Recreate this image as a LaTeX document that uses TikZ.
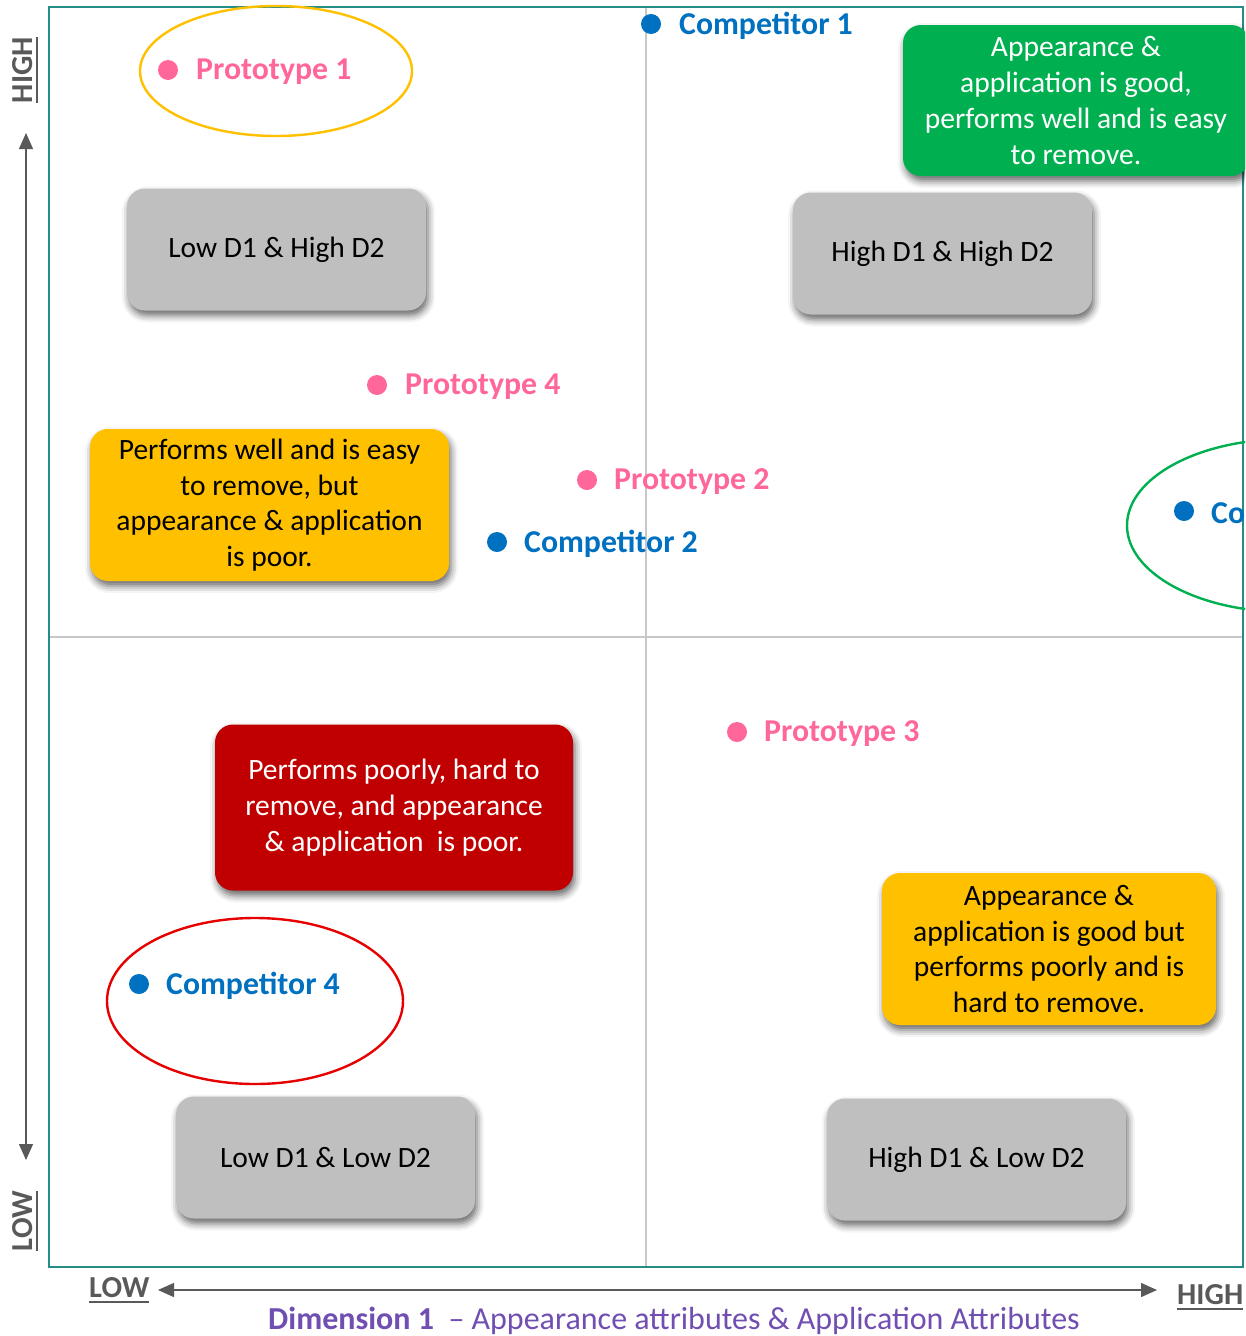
\documentclass[tikz,border=0pt]{standalone}
\usepackage{fontspec}
\setmainfont{Carlito}
\usetikzlibrary{arrows.meta,shadows.blur}
\definecolor{frameteal}{RGB}{38,140,135}
\definecolor{qgrey}{RGB}{200,200,200}
\definecolor{boxgrey}{RGB}{191,191,191}
\definecolor{okgreen}{RGB}{0,176,80}
\definecolor{midorange}{RGB}{255,192,0}
\definecolor{badred}{RGB}{192,0,0}
\definecolor{protopink}{RGB}{255,102,153}
\definecolor{compblue}{RGB}{0,112,192}
\definecolor{axgrey}{RGB}{89,89,89}
\definecolor{dimpurple}{RGB}{112,78,178}
\definecolor{ringgreen}{RGB}{0,176,80}
\definecolor{ringyellow}{RGB}{255,192,0}
\definecolor{ringred}{RGB}{230,0,0}
\newcommand\myul[1]{\setbox0=\hbox{#1}\rlap{\rule[-6pt]{\wd0}{2.5pt}}\box0}
\tikzset{
  softshadow/.style={blur shadow={shadow xshift=2pt,shadow yshift=-5pt,shadow blur radius=7pt,shadow opacity=60}},
  cardbox/.style={rounded corners=18pt,minimum width=299pt,minimum height=122pt,inner sep=0pt,softshadow,
    font=\fontsize{29.5}{35}\selectfont,text=black},
  greycard/.style={cardbox,fill=boxgrey},
  notebox/.style={rounded corners=18pt,inner sep=0pt,softshadow,align=center,font=\fontsize{29.5}{35.7}\selectfont},
  protolabel/.style={anchor=west,inner sep=0pt,text=protopink,font=\fontsize{31.8}{38}\selectfont\bfseries},
  complabel/.style={anchor=west,inner sep=0pt,text=compblue,font=\fontsize{31.8}{38}\selectfont\bfseries},
  protodot/.style={fill=protopink},
  compdot/.style={fill=compblue},
  ring/.style={line width=2.4pt},
  axisline/.style={draw=axgrey,line width=1.4pt},
  axislabel/.style={inner sep=0pt,text=axgrey,font=\fontsize{30.5}{36}\selectfont\bfseries},
}
\begin{document}
\begin{tikzpicture}[x=1pt,y=-1pt]
\useasboundingbox (0,0) rectangle (1245,1336);
\clip (0,0) rectangle (1245,1336);
% quadrant lines
\coordinate (vt) at (646,7); \coordinate (vb) at (646,1267);
\coordinate (hl) at (49,637); \coordinate (hr) at (1243,637);
\draw[qgrey,line width=2pt] (vt) -- (vb);
\draw[qgrey,line width=2pt] (hl) -- (hr);
% frame
\draw[frameteal,line width=2pt] (49,7) rectangle (1243,1267);

% ellipses
\draw[ring,ringyellow] (276,71) ellipse [x radius=136,y radius=65];
\draw[ring,ringgreen] (1287,525.5) ellipse [x radius=160,y radius=86.5];
\draw[ring,ringred] (255,1001) ellipse [x radius=148,y radius=83];

% grey cards
\node[greycard] (lh) at (276.5,249.5) {Low D1 \& High D2};
\node[greycard] (hh) at (942.5,253.5) {High D1 \& High D2};
\node[greycard] (ll) at (325.5,1157.5) {Low D1 \& Low D2};
\node[greycard] (hl2) at (976.5,1159.5) {High D1 \& Low D2};

% note boxes
\node[notebox,fill=okgreen,text=white,minimum width=346pt,minimum height=151pt] (good) at (1076,100.5)
  {Appearance \&\\application is good,\\performs well and is easy\\to remove.};
\node[notebox,fill=midorange,text=black,minimum width=359pt,minimum height=152pt] (leftmid) at (269.5,505)
  {Performs well and is easy\\to remove, but\\appearance \& application\\is poor.};
\node[notebox,fill=badred,text=white,minimum width=358pt,minimum height=166pt] (bad) at (394,807.5)
  {Performs poorly, hard to\\remove, and appearance\\\& application\ \ is poor.};
\node[notebox,fill=midorange,text=black,minimum width=334pt,minimum height=152pt] (rightmid) at (1049,949)
  {Appearance \&\\application is good but\\performs poorly and is\\hard to remove.};

% points
\fill[protodot] (168,70) circle (10);
\node[protolabel] (p1) at (196,72) {Prototype 1};
\fill[compdot] (651,24) circle (10);
\node[complabel] (c1) at (679,26) {Competitor 1};
\fill[protodot] (377,385) circle (10);
\node[protolabel] (p4) at (405,387) {Prototype 4};
\fill[protodot] (587,480) circle (10);
\node[protolabel] (p2) at (614,482) {Prototype 2};
\fill[compdot] (497,542) circle (10);
\node[complabel] (c2) at (524,544) {Competitor 2};
\fill[compdot] (1184,511) circle (10);
\node[complabel] (c3) at (1211,513) {Co};
\fill[protodot] (737,732) circle (10);
\node[protolabel] (p3) at (764,734) {Prototype 3};
\fill[compdot] (139,984) circle (10);
\node[complabel] (c4) at (166,986) {Competitor 4};

% vertical axis
\coordinate (vup) at (26,133);
\coordinate (vdown) at (26,1160);
\draw[axisline,{Triangle[length=16pt,width=14pt]}-{Triangle[length=16pt,width=14pt]}] (vup) -- (vdown);
\node[axislabel,rotate=90] (vhigh) at (25,70) {\myul{HIGH}};
\node[axislabel,rotate=90] (vlow) at (25,1221) {\myul{LOW}};

% horizontal axis
\coordinate (hleft) at (158,1290);
\coordinate (hright) at (1157,1290);
\draw[axisline,{Triangle[length=16pt,width=14pt]}-{Triangle[length=16pt,width=14pt]}] (hleft) -- (hright);
\node[axislabel,anchor=base west] (hlow) at (89,1297) {\myul{LOW}};
\node[axislabel,anchor=base west] (hhigh) at (1177,1304) {\myul{HIGH}};

% dimension label
\node[inner sep=0pt,text=dimpurple,font=\fontsize{32}{38}\selectfont] (dim) at (674,1321)
  {\textbf{Dimension 1}\ \ – Appearance attributes \& Application Attributes};
\end{tikzpicture}
\end{document}
